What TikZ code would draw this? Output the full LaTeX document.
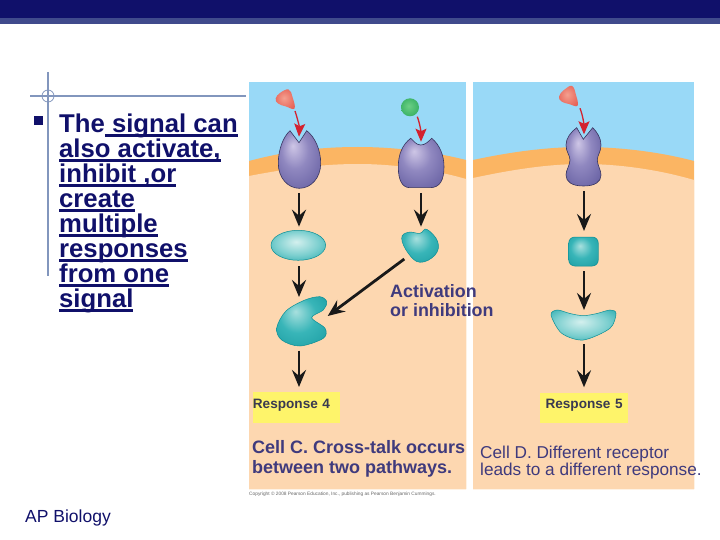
\documentclass[tikz,border=0pt]{standalone}
\usepackage{fontspec}
\setmainfont{Liberation Sans}
\usetikzlibrary{arrows.meta}
\newlength{\ulinewd}
\newcommand{\ulined}[1]{\settowidth{\ulinewd}{#1}\rlap{\rule[-4.2pt]{\ulinewd}{2.2pt}}#1}
\definecolor{navy}{HTML}{10106A}
\definecolor{bandblue}{HTML}{404A8C}
\definecolor{guide}{HTML}{8296BD}
\definecolor{sky}{HTML}{99D9F7}
\definecolor{membrane}{HTML}{FBB563}
\definecolor{cyto}{HTML}{FDD7B0}
\definecolor{lemon}{HTML}{FEF46A}
\definecolor{inkblue}{HTML}{3F3A7D}
\definecolor{inkgrey}{HTML}{3A3A50}
\definecolor{arrowred}{HTML}{D3222F}
\definecolor{recLight}{HTML}{CEC6E6}
\definecolor{recMid}{HTML}{9088C0}
\definecolor{recLow}{HTML}{6F68A8}
\definecolor{recDark}{HTML}{504C88}
\definecolor{tealPale}{HTML}{D4F0EE}
\definecolor{tealLight}{HTML}{A8E0DE}
\definecolor{tealSoft}{HTML}{7CCFCF}
\definecolor{tealMid}{HTML}{38B5B8}
\definecolor{tealEdge}{HTML}{1FA6AB}
\definecolor{tealDark}{HTML}{0B8F96}
\definecolor{ligLight}{HTML}{F4A090}
\definecolor{ligMid}{HTML}{E8685C}
\definecolor{ligDark}{HTML}{D5463F}
\definecolor{ballLight}{HTML}{6CCF85}
\definecolor{ballMid}{HTML}{35AF62}
\definecolor{ballDark}{HTML}{249050}
\pgfdeclareradialshading{recshade}{\pgfpoint{-8bp}{12bp}}{color(0bp)=(recLight);color(16bp)=(recMid);color(32bp)=(recLow);color(50bp)=(recDark)}
\pgfdeclareradialshading{paleshade}{\pgfpoint{-2bp}{6bp}}{color(0bp)=(tealPale);color(20bp)=(tealSoft);color(38bp)=(tealEdge);color(50bp)=(tealDark)}
\pgfdeclareradialshading{tealshade}{\pgfpoint{-6bp}{10bp}}{color(0bp)=(tealLight);color(18bp)=(tealMid);color(50bp)=(tealDark)}
\pgfdeclareradialshading{ligshade}{\pgfpoint{-4bp}{4bp}}{color(0bp)=(ligLight);color(25bp)=(ligMid);color(50bp)=(ligDark)}
\pgfdeclareradialshading{ballshade}{\pgfpoint{-4bp}{4bp}}{color(0bp)=(ballLight);color(30bp)=(ballMid);color(50bp)=(ballDark)}
\begin{document}
\begin{tikzpicture}[x=1pt,y=-1pt,
  slot/.style={inner sep=0pt,outer sep=0pt},
  blackarrow/.style={line width=2.8pt,black!90,-{Stealth[length=17pt,width=14pt,inset=6pt]}},
  redarrow/.style={line width=1.3pt,arrowred,-{Stealth[length=13pt,width=11pt,inset=2.5pt]}},
  receptor/.style={shading=recshade,draw=recDark!70!black,line width=0.6pt},
  relay/.style={shading=tealshade,draw=tealDark,line width=0.5pt},
  palerelay/.style={shading=paleshade,draw=tealDark,line width=0.5pt},
  ligand/.style={shading=ligshade},
  yellowbox/.style={fill=lemon,inner sep=0pt,text=inkgrey,font=\fontsize{13.6}{14}\selectfont\bfseries},
  caption/.style={inner sep=0pt,anchor=west,align=left,text=inkblue}]
\useasboundingbox (0,0) rectangle (720,540);
\fill[navy] (0,0) rectangle (720,18);
\fill[bandblue] (0,18) rectangle (720,24.5);
\draw[guide,line width=1.6pt] (30,96) -- (246,96);
\draw[guide,line width=1.6pt] (48,72) -- (48,276);
\draw[guide,line width=0.8pt] (48,96) circle (6);
\fill[navy] (34,116) rectangle (43,125);
\node[inner sep=0pt,anchor=north west,align=left,text=navy,font=\fontsize{25.7}{25}\selectfont\bfseries] (body) at (59,113.5) {The\ulined{\ signal can}\\\ulined{also activate,}\\\ulined{inhibit ,or}\\\ulined{create}\\\ulined{multiple}\\\ulined{responses}\\\ulined{from one}\\\ulined{signal}};
\node[inner sep=0pt,anchor=west,text=navy,font=\fontsize{17.5}{18}\selectfont] (ap) at (25,517.5) {AP Biology};
% left panel
\fill[sky] (249,82) rectangle (466,489);
\fill[membrane] (249,161) .. controls (290,150) and (325,147) .. (358,147) .. controls (395,147) and (435,152) .. (466,160) -- (466,489) -- (249,489) -- cycle;
\fill[cyto] (249,176) .. controls (290,168) and (325,164) .. (358,164) .. controls (395,164) and (435,170) .. (466,179) -- (466,489) -- (249,489) -- cycle;
% right panel
\fill[sky] (473,82) rectangle (694,489);
\fill[membrane] (473,160) .. controls (515,151) and (550,147) .. (583,147) .. controls (620,147) and (660,152) .. (694,161) -- (694,489) -- (473,489) -- cycle;
\fill[cyto] (473,178) .. controls (515,169) and (550,164) .. (583,164) .. controls (620,164) and (660,170) .. (694,180) -- (694,489) -- (473,489) -- cycle;
% ligands
\shade[ligand] plot[smooth cycle,tension=.7] coordinates {(288.5,89.5) (280,93) (275.7,98.5) (278,103.5) (286,106.5) (294.5,108.5) (292.5,97)};
\shade[shading=ballshade] (410,107.3) circle (9);
\shade[ligand] plot[smooth cycle,tension=.7] coordinates {(572,86) (564,90) (559,96.5) (561.5,101.5) (569,104) (577.5,105.7) (576,95)};
% receptors
\shade[receptor] (299,142.7) -- (290,130.7) .. controls (283,137) and (278.3,150) .. (278.3,163.3) .. controls (278.3,178) and (288,188.3) .. (299.3,188.3) .. controls (311,188.3) and (320.7,178) .. (320.7,163.3) .. controls (320.7,150) and (315,137) .. (306.7,130.7) -- cycle;
\shade[receptor] (410.7,138.3) .. controls (414,141) and (416,145) .. (420.7,145) .. controls (425,145) and (428,142) .. (431.7,138.3) .. controls (440,145) and (444,156) .. (444,166.7) .. controls (444,180) and (440,187.7) .. (430,187.7) -- (410,187.7) .. controls (402,187.7) and (398.3,180) .. (398.3,166.7) .. controls (398.3,155) and (402,145) .. (410.7,138.3) -- cycle;
\shade[receptor] (583.3,139.3) -- (576.7,127.7) .. controls (571,132) and (566,138) .. (566,145) .. controls (566,152) and (570,155) .. (570,160) .. controls (570,165) and (566,170) .. (566,175) .. controls (566,182) and (572,186) .. (583.5,186) .. controls (595,186) and (601,182) .. (601,175) .. controls (601,170) and (597.3,165) .. (597.3,160) .. controls (597.3,155) and (601,152) .. (601,145) .. controls (601,138) and (597,132) .. (592.7,127.7) -- cycle;
% relay proteins
\shade[palerelay] (298.3,245.3) ellipse (27.3 and 15);
\shade[relay] plot[smooth cycle,tension=.7] coordinates {(401.7,238.3) (408.3,232.3) (420,233.3) (426.7,229.3) (437.7,241.7) (435,255) (420,262.3) (408.3,253.3)};
\shade[relay] plot[smooth cycle,tension=.55] coordinates {(276.7,328) (286,311) (305,300) (320,296.7) (326.7,301.7) (323.3,310) (311.7,317.7) (325,328.3) (323.3,338.3) (300,346) (281.7,340)};
\shade[relay,rounded corners=6pt] (568.7,237) rectangle (598.3,266);
\shade[palerelay] plot[smooth cycle,tension=.5] coordinates {(551,315) (557.3,310) (570,313.5) (583.3,315.7) (597,313.5) (610,310) (616,313.3) (610,328.3) (583.3,340) (561.7,333.3)};
% invisible slots that the arrows run between
\node[slot,minimum width=19pt,minimum height=21pt] (ligA) at (285.5,100.5) {};
\node[slot,minimum width=42pt,minimum height=56.3pt] (recA) at (299,164.85) {};
\node[slot,minimum width=55pt,minimum height=39.3pt] (relA) at (299,246.35) {};
\node[slot,minimum width=50pt,minimum height=53.7pt] (protA) at (299,323.85) {};
\node[slot,minimum width=18pt,minimum height=18pt] (ligB) at (408.3,107.7) {};
\node[slot,minimum width=46pt,minimum height=51.3pt] (recB) at (421,167.35) {};
\node[slot,minimum width=36pt,minimum height=35.3pt] (relB) at (421,244.35) {};
\node[slot,minimum width=19pt,minimum height=22pt] (ligD) at (570.5,97.3) {};
\node[slot,minimum width=35pt,minimum height=56.7pt] (recD) at (584,162.65) {};
\node[slot,minimum width=30pt,minimum height=40pt] (relD) at (584,251) {};
\node[slot,minimum width=60pt,minimum height=34pt] (crescent) at (584,327) {};
\coordinate (crossStart) at (404.3,259);
\coordinate (crossEnd) at (327.7,316);
% responses
\node[yellowbox,anchor=north west,minimum width=87.3pt,text width=87.3pt,text height=16.3pt,text depth=14.7pt,align=left] (respA) at (252.7,391.7) {Response 4};
\node[yellowbox,anchor=north west,minimum width=87.7pt,text width=87.7pt,text height=15.7pt,text depth=14.3pt,align=center] (respD) at (540,392.3) {Response 5};
% arrows
\draw[redarrow] (ligA.south east) .. controls (298,120) and (299.5,128) .. (recA.north);
\draw[redarrow] (ligB.south east) .. controls (420,124) and (421,132) .. (recB.north);
\draw[redarrow] (ligD.south east) .. controls (583,116) and (584,125) .. (recD.north);
\draw[blackarrow] (recA.south) -- (relA.north);
\draw[blackarrow] (relA.south) -- (protA.north);
\draw[blackarrow,shorten >=4.7pt] (protA.south) -- (protA.south |- respA.north);
\draw[blackarrow] (recB.south) -- (relB.north);
\draw[blackarrow] (crossStart) -- (crossEnd);
\draw[blackarrow] (recD.south) -- (relD.north);
\draw[blackarrow] (relD.south) -- (crescent.north);
\draw[blackarrow,shorten >=5pt] (crescent.south) -- (crescent.south |- respD.north);
% captions
\node[caption,font=\fontsize{17.9}{19}\selectfont\bfseries] (actLabel) at (390,300.5) {Activation\\or inhibition};
\node[caption,font=\fontsize{18}{20}\selectfont\bfseries] (cellC) at (252,459) {Cell C. Cross-talk occurs\\between two pathways.};
\node[caption,font=\fontsize{17.2}{17}\selectfont] (cellD) at (480,462.5) {Cell D. Different receptor\\leads to a different response.};
\node[inner sep=0pt,anchor=west,text=black!60,font=\fontsize{4.8}{6}\selectfont] (copy) at (249,494) {Copyright © 2008 Pearson Education, Inc., publishing as Pearson Benjamin Cummings.};
\end{tikzpicture}
\end{document}
